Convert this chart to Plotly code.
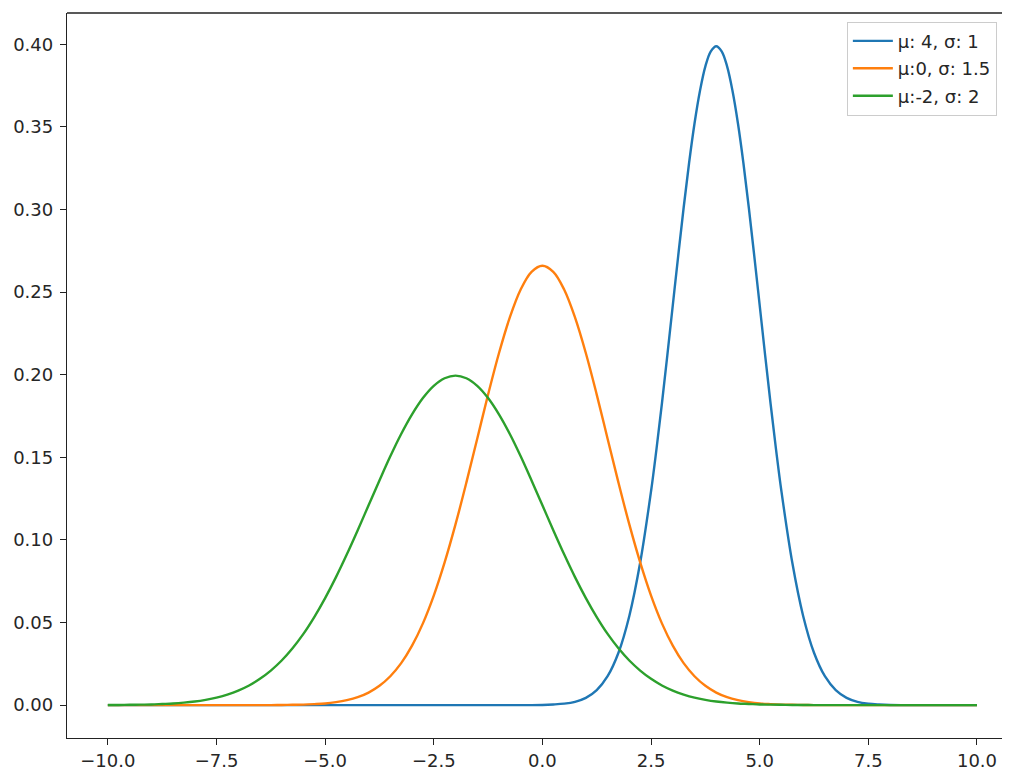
import plotly.graph_objects as go

x_vals = [-10.0 + 0.25 * i for i in range(81)]
# the narrow blue curve is read at a finer step around its peak
blue_x = ([-10.0 + 0.25 * i for i in range(50)]
          + [2.5 + 0.125 * i for i in range(25)]
          + [5.75 + 0.25 * i for i in range(18)])

# values at each x position
blue_vals = [0.0] * 40 + [
    0.0001, 0.0004, 0.0009, 0.0020, 0.0044, 0.0091, 0.0175, 0.0317, 0.0540, 0.0863,
    0.1295, 0.1550, 0.1826, 0.2119, 0.2420, 0.2720, 0.3011, 0.3282, 0.3521, 0.3718,
    0.3867, 0.3958, 0.3989, 0.3958, 0.3867, 0.3718, 0.3521, 0.3282, 0.3011, 0.2720,
    0.2420, 0.2119, 0.1826, 0.1550, 0.1295,
    0.0863, 0.0540, 0.0317, 0.0175, 0.0091, 0.0044, 0.0020, 0.0009, 0.0004, 0.0001] + [0.0] * 8
orange_vals = [0.0] * 16 + [
    0.0001, 0.0002, 0.0003, 0.0006, 0.0010, 0.0018, 0.0030, 0.0048, 0.0076, 0.0117,
    0.0175, 0.0254, 0.0360, 0.0495, 0.0663, 0.0864, 0.1094, 0.1347, 0.1613, 0.1880,
    0.2130, 0.2347, 0.2516, 0.2623, 0.2660,
    0.2623, 0.2516, 0.2347, 0.2130, 0.1880, 0.1613, 0.1347, 0.1094, 0.0864, 0.0663,
    0.0495, 0.0360, 0.0254, 0.0175, 0.0117, 0.0076, 0.0048, 0.0030, 0.0018, 0.0010,
    0.0006, 0.0003, 0.0002, 0.0001] + [0.0] * 16
green_vals = [
    0.0001, 0.0001, 0.0002, 0.0003, 0.0004, 0.0007, 0.0010, 0.0015, 0.0022, 0.0032,
    0.0045, 0.0064, 0.0088, 0.0119, 0.0159, 0.0209, 0.0270, 0.0344, 0.0431, 0.0533,
    0.0648, 0.0775, 0.0913, 0.1059, 0.1210, 0.1360, 0.1506, 0.1641, 0.1760, 0.1859,
    0.1933, 0.1979, 0.1995,
    0.1979, 0.1933, 0.1859, 0.1760, 0.1641, 0.1506, 0.1360, 0.1210, 0.1059, 0.0913,
    0.0775, 0.0648, 0.0533, 0.0431, 0.0344, 0.0270, 0.0209, 0.0159, 0.0119, 0.0088,
    0.0064, 0.0045, 0.0032, 0.0022, 0.0015, 0.0010, 0.0007, 0.0004, 0.0003, 0.0002,
    0.0001, 0.0001] + [0.0] * 16

series_names = ["μ: 4, σ: 1", "μ:0, σ: 1.5", "μ:-2, σ: 2"]
series_x = [blue_x, x_vals, x_vals]
series_vals = [blue_vals, orange_vals, green_vals]
colors = ["#1f77b4", "#ff7f0e", "#2ca02c"]

x_ticks = [-10.0, -7.5, -5.0, -2.5, 0.0, 2.5, 5.0, 7.5, 10.0]
y_ticks = [0.0, 0.05, 0.10, 0.15, 0.20, 0.25, 0.30, 0.35, 0.40]

fig = go.Figure()
for k, (name, xs, vals, c) in enumerate(zip(series_names, series_x, series_vals, colors)):
    fig.add_trace(go.Scatter(x=xs, y=vals, mode="lines", name=name, legendgroup=f"g{k}",
                             line=dict(color=c, width=2.4, shape="spline", smoothing=1.0)))

font = dict(family="DejaVu Sans", size=18, color="#262626")
axis_common = dict(showgrid=False, zeroline=False, showline=True, linecolor="#222", linewidth=1.3,
                   ticks="outside", ticklen=6, tickcolor="#222", tickwidth=1.3, mirror=False,
                   automargin=False, tickfont=font)
# the page body adds an 8px offset, so the figure is sized to fill the rest of the window
fig.update_layout(
    width=1002, height=764,
    margin=dict(l=59, r=0, t=5, b=34, autoexpand=False),
    paper_bgcolor="white", plot_bgcolor="white",
    font=font,
    showlegend=True,
    legend=dict(x=0.827, xanchor="left", y=0.988, yanchor="top",
                bgcolor="rgba(255,255,255,0.85)", bordercolor="#cccccc", borderwidth=1,
                font=dict(family="DejaVu Sans", size=18, color="#262626"),
                itemwidth=40, tracegroupgap=1),
    xaxis=dict(range=[-10.94, 10.76], tickvals=x_ticks, tickformat=".1f", **axis_common),
    yaxis=dict(range=[-0.0199, 0.419], tickvals=y_ticks, tickformat=".2f",
               ticklabelstandoff=3, **axis_common),
    shapes=[dict(type="line", xref="paper", yref="paper", x0=0, x1=1, y0=1, y1=1,
                 line=dict(color="#222", width=1.3))],
)

fig.write_html("out.html")
